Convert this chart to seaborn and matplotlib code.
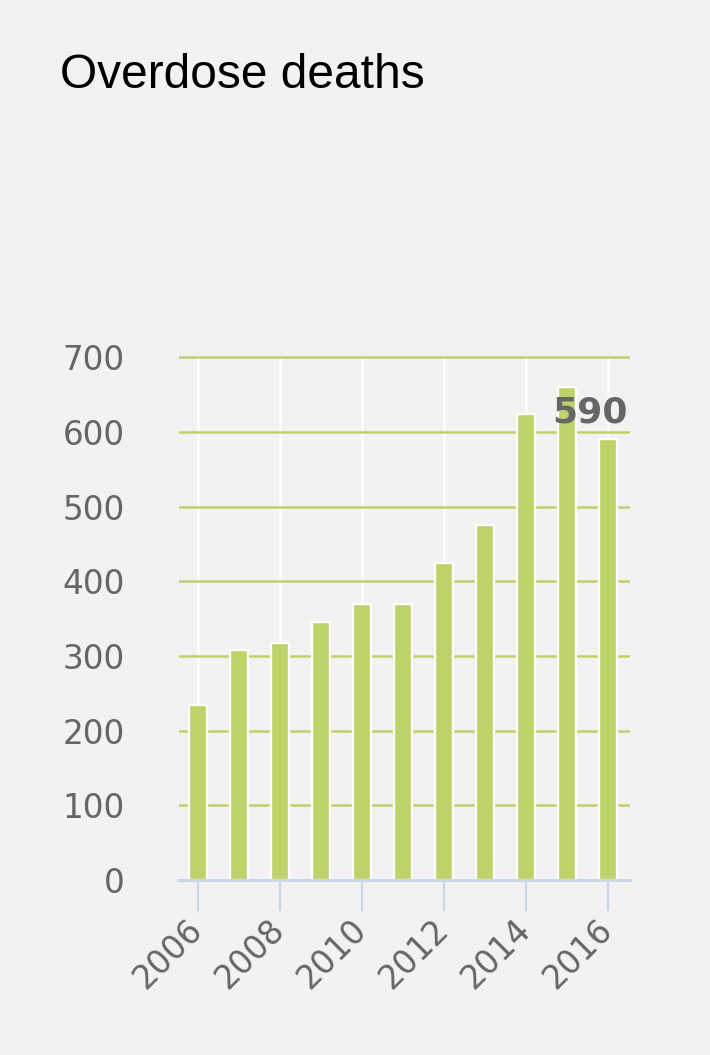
import matplotlib
matplotlib.use("Agg")
import matplotlib.pyplot as plt
import matplotlib.transforms as mtransforms
import seaborn as sns
import pandas as pd

years = [2006, 2007, 2008, 2009, 2010, 2011, 2012, 2013, 2014, 2015, 2016]
deaths = [235, 308, 318, 346, 369, 369, 425, 475, 624, 660, 590]
tick_years = ["2006", "2008", "2010", "2012", "2014", "2016"]
y_ticks = [0, 100, 200, 300, 400, 500, 600, 700]
title = "Overdose deaths"

BG = "#f2f2f2"
GREEN = "#bdd36a"
AXIS = "#ccd6eb"
GRAY = "#666666"

sns.set_theme(style="white")
plt.rcParams["font.family"] = ["DejaVu Sans"]

W, H = 710, 1055
fig = plt.figure(figsize=(W / 100, H / 100), dpi=100, facecolor=BG)
ax = fig.add_axes([179 / W, 1 - 880 / H, (630 - 179) / W, (880 - 356) / H])
ax.set_facecolor(BG)
ax.set_axisbelow(True)

df = pd.DataFrame({"year": [str(y) for y in years], "deaths": deaths})
sns.barplot(data=df, x="year", y="deaths", color=GREEN, saturation=1,
            width=0.45, edgecolor="white", linewidth=1.7, ax=ax, zorder=3)

ax.set_ylim(0, 701.7)
ax.set_xlim(-0.465, 10.54)
ax.set_yticks(y_ticks)
ax.set_yticklabels([str(v) for v in y_ticks])
tick_pos = [years.index(int(t)) for t in tick_years]
ax.set_xticks(tick_pos)
ax.set_xticklabels(tick_years, rotation=45, ha="right", va="baseline",
                   rotation_mode="anchor")
ax.set_xlabel("")
ax.set_ylabel("")

ax.xaxis.grid(True, color="white", linewidth=1.8)
ax.yaxis.grid(True, color=GREEN, linewidth=1.8)

for s in ["left", "top", "right"]:
    ax.spines[s].set_visible(False)
ax.spines["bottom"].set_color(AXIS)
ax.spines["bottom"].set_linewidth(2.2)
ax.spines["bottom"].set_zorder(4)

ax.tick_params(axis="y", length=0, pad=39, labelsize=23.5, labelcolor=GRAY)
ax.tick_params(axis="x", length=22, width=1.6, color=AXIS, pad=15,
               labelsize=23.5, labelcolor=GRAY, bottom=True)

# shift rotated year labels slightly right (after tick_params, which resets transforms)
shift = mtransforms.ScaledTranslation(6 / 100, 0, fig.dpi_scale_trans)
for tick in ax.xaxis.get_major_ticks():
    tick.label1.set_transform(tick.label1.get_transform() + shift)

ax.annotate(f"{deaths[-1]}", xy=(len(years) - 1, deaths[-1]),
            xytext=(20, 17), textcoords="offset pixels",
            ha="right", va="baseline", fontsize=26, fontweight="bold",
            color=GRAY, zorder=5)

fig.text(60 / W, 1 - 88 / H, title, fontsize=34.5, color="black",
         ha="left", va="baseline", family=["Liberation Sans", "DejaVu Sans"])

fig.savefig("out.png", dpi=100, facecolor=BG)
